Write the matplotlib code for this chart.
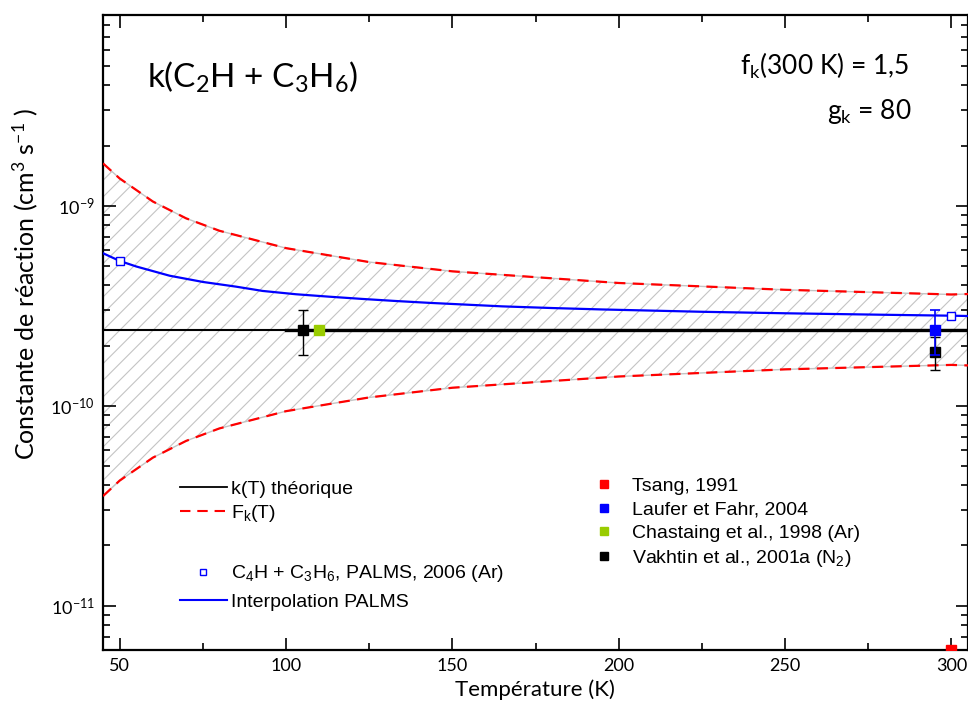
import matplotlib.pyplot as plt
from matplotlib.lines import Line2D
from matplotlib.ticker import LogLocator, NullFormatter

plt.rcParams['font.family'] = ['Lato', 'DejaVu Sans']
plt.rcParams['mathtext.fontset'] = 'custom'
plt.rcParams['mathtext.rm'] = 'Lato'
plt.rcParams['mathtext.it'] = 'Lato:italic'
plt.rcParams['mathtext.sf'] = 'Liberation Sans'
plt.rcParams['mathtext.default'] = 'regular'
plt.rcParams['hatch.linewidth'] = 0.8

# k(T) theoretical value and its uncertainty envelope F_k(T)
T_line = [45, 305]
k_line = [2.4e-10, 2.4e-10]
T_thick = [100, 305]
k_thick = [2.4e-10, 2.4e-10]

T_env = [45, 50, 60, 70, 80, 100, 125, 150, 200, 250, 300, 305]
k_upper = [1.63e-9, 1.37e-9, 1.05e-9, 8.65e-10, 7.5e-10, 6.14e-10, 5.23e-10,
           4.70e-10, 4.11e-10, 3.80e-10, 3.60e-10, 3.62e-10]
k_lower = [3.53e-11, 4.22e-11, 5.5e-11, 6.67e-11, 7.7e-11, 9.39e-11, 1.10e-10,
           1.23e-10, 1.40e-10, 1.52e-10, 1.60e-10, 1.59e-10]

# PALMS (C4H + C3H6) points and interpolation
T_palms = [50, 300]
k_palms = [5.30e-10, 2.82e-10]
T_interp = [45, 50, 55, 65, 75, 85, 93, 103, 113, 123, 133, 143, 153, 165, 180,
            195, 210, 225, 250, 280, 300, 305]
k_interp = [5.79e-10, 5.30e-10, 4.97e-10, 4.47e-10, 4.16e-10, 3.94e-10, 3.75e-10,
            3.61e-10, 3.51e-10, 3.42e-10, 3.34e-10, 3.27e-10, 3.21e-10, 3.14e-10,
            3.08e-10, 3.03e-10, 2.99e-10, 2.95e-10, 2.90e-10, 2.85e-10, 2.82e-10,
            2.81e-10]

# experimental data
T_tsang, k_tsang = [300], [6.0e-12]
T_laufer, k_laufer, err_laufer = [295], [2.4e-10], [0.6e-10]
T_chast, k_chast = [110], [2.4e-10]
T_vakh, k_vakh, err_vakh = [105, 295], [2.4e-10, 1.86e-10], [0.6e-10, 0.35e-10]

x_ticks = [50, 100, 150, 200, 250, 300]
y_ticks = [1e-11, 1e-10, 1e-9]

red, blue, green = '#ff0000', '#0000ff', '#99cc00'

fig = plt.figure(figsize=(9.68, 7.06), dpi=100)
ax = fig.add_axes([103 / 968, 1 - 650 / 706, 865 / 968, 635 / 706])

ax.fill_between(T_env, k_lower, k_upper, facecolor='none', edgecolor='#c4c4c4',
                hatch='//', linewidth=1.0, zorder=1)
ax.plot(T_env, k_upper, color=red, lw=1.6, dashes=(5, 3.3), zorder=3)
ax.plot(T_env, k_lower, color=red, lw=1.6, dashes=(5, 3.3), zorder=3)
ax.plot(T_line, k_line, color='black', lw=1.5, zorder=2)
ax.plot(T_thick, k_thick, color='black', lw=2.4, zorder=2)
ax.plot(T_interp, k_interp, color=blue, lw=1.6, zorder=3)
ax.plot(T_palms, k_palms, 's', color=blue, mfc='white', ms=6, mew=1.0, zorder=6)

ax.errorbar(T_vakh, k_vakh, yerr=err_vakh, fmt='s', color='black', ms=6.5,
            capsize=3.6, elinewidth=1.0, capthick=1.0, zorder=4)
ax.errorbar(T_laufer, k_laufer, yerr=err_laufer, fmt='s', color=blue, ms=7.5,
            capsize=3.6, elinewidth=1.2, capthick=1.2, zorder=5)
ax.plot(T_chast, k_chast, 's', color=green, ms=6.5, zorder=5)
ax.plot(T_tsang, k_tsang, 's', color=red, ms=6.5, zorder=5)

ax.set_yscale('log')
ax.set_xlim(45, 305)
ax.set_ylim(6e-12, 9e-9)
ax.set_xticks(x_ticks)
ax.set_xticks([75, 125, 175, 225, 275], minor=True)
ax.set_yticks(y_ticks)
ax.yaxis.set_minor_locator(LogLocator(base=10, subs=range(2, 10)))
ax.yaxis.set_minor_formatter(NullFormatter())
ax.tick_params(which='both', direction='in', top=True, right=True, width=1.2,
               labelsize=13, colors='black')
ax.tick_params(which='major', length=9, pad=6)
ax.tick_params(which='minor', length=5)
for s in ax.spines.values():
    s.set_linewidth(1.6)

fig.text(535 / 968, 1 - 690 / 706, 'Température (K)', ha='center', va='center', fontsize=16)
fig.text(25 / 968, 1 - 284 / 706, 'Constante de réaction (cm$^{3}$ s$^{-1}$ )',
         rotation=90, ha='center', va='center', fontsize=18)

ax.text(0.051, 0.885, 'k(C$_2$H + C$_3$H$_6$)', transform=ax.transAxes,
        fontsize=24, ha='left', va='baseline')
ax.text(0.932, 0.906, 'f$_k$(300 K) = 1,5', transform=ax.transAxes,
        fontsize=19, ha='right', va='baseline')
ax.text(0.935, 0.836, 'g$_k$ = 80', transform=ax.transAxes,
        fontsize=19, ha='right', va='baseline')

leg_kw = dict(frameon=False, prop={'family': 'Liberation Sans', 'size': 14},
              handlelength=2.4, handletextpad=0.2, borderpad=0, borderaxespad=0,
              loc='center left')

h1 = [Line2D([], [], color='black', lw=1.3),
      Line2D([], [], color=red, lw=1.5, dashes=(5, 3.3))]
leg1 = ax.legend(h1, ['k(T) théorique', r'$\mathsf{F_k}$(T)'], labelspacing=0.25,
                 bbox_to_anchor=((180 - 103) / 865, (650 - 502) / 635), **leg_kw)
ax.add_artist(leg1)

h2 = [Line2D([], [], ls='none', marker='s', color=blue, mfc='white', ms=5, mew=1.0),
      Line2D([], [], color=blue, lw=1.5)]
leg2 = ax.legend(h2, [r'$\mathsf{C_4H}$ + $\mathsf{C_3H_6}$, PALMS, 2006 (Ar)',
                      'Interpolation PALMS'],
                 labelspacing=0.45,
                 bbox_to_anchor=((180 - 103) / 865, (650 - 587) / 635), **leg_kw)
ax.add_artist(leg2)

h3 = [Line2D([], [], ls='none', marker='s', color=c, ms=5.5) for c in (red, blue, green, 'black')]
ax.legend(h3, ['Tsang, 1991', 'Laufer et Fahr, 2004', 'Chastaing et al., 1998 (Ar)',
               r'Vakhtin et al., 2001a ($\mathsf{N_2}$)'], labelspacing=0.3,
          bbox_to_anchor=((581 - 103) / 865, (650 - 523) / 635), **leg_kw)

fig.savefig('out.png', dpi=100)
